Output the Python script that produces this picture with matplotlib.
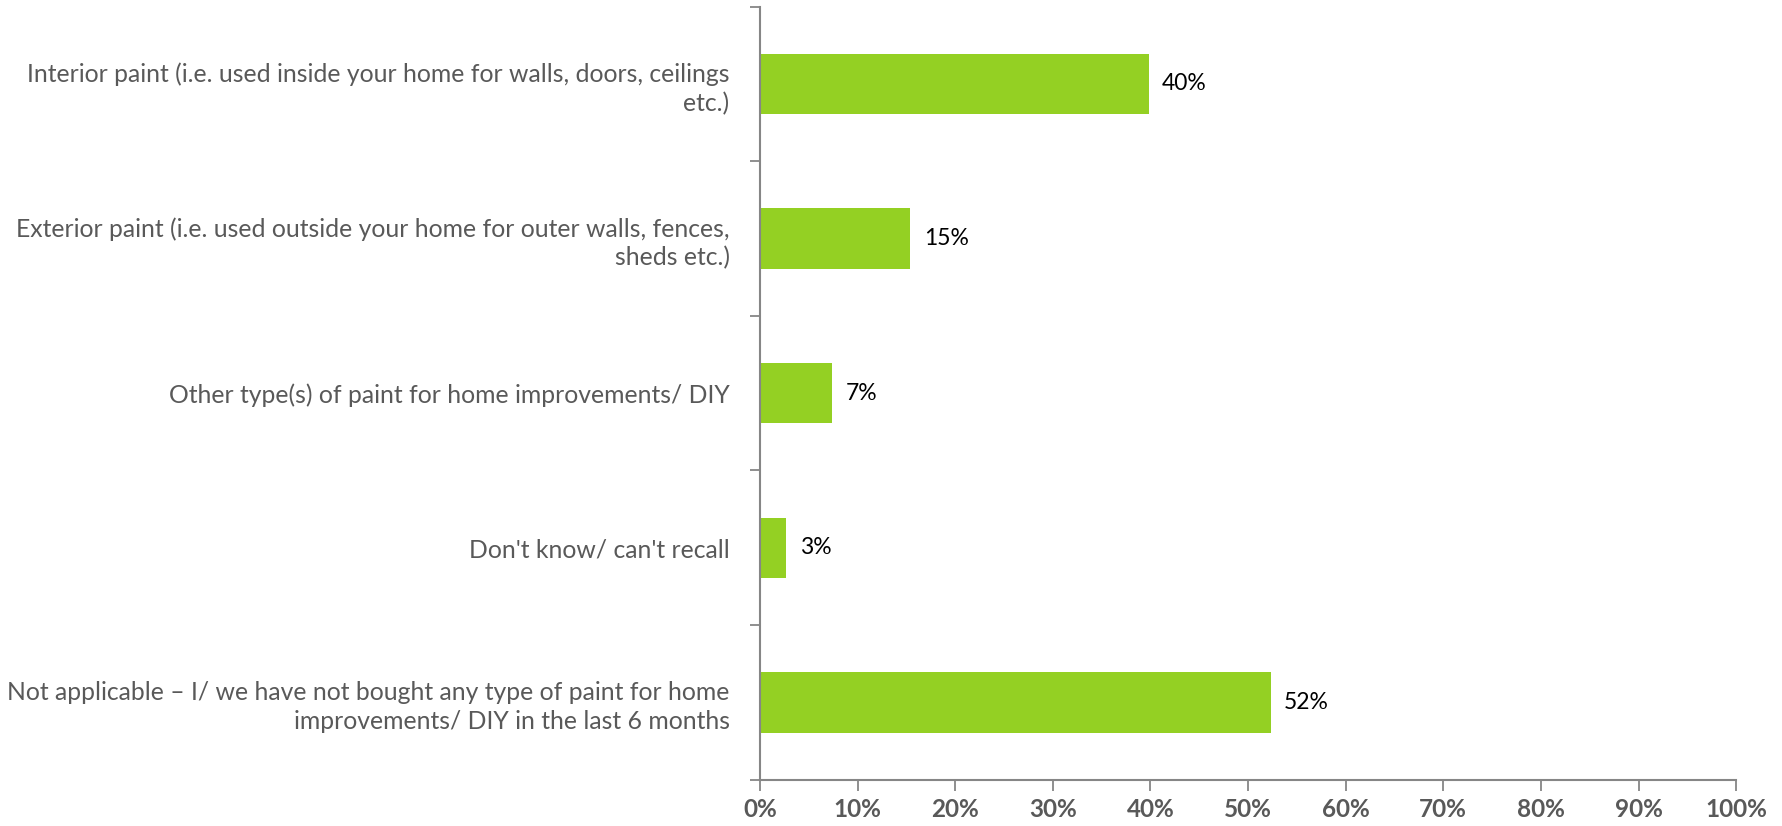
import numpy as np
import matplotlib.pyplot as plt
from matplotlib.ticker import FixedLocator

categories = [
    "Interior paint (i.e. used inside your home for walls, doors, ceilings\netc.)",
    "Exterior paint (i.e. used outside your home for outer walls, fences,\nsheds etc.)",
    "Other type(s) of paint for home improvements/ DIY",
    "Don't know/ can't recall",
    "Not applicable \u2013 I/ we have not bought any type of paint for home\nimprovements/ DIY in the last 6 months",
]
values = [39.8, 15.4, 7.4, 2.7, 52.3]
value_labels = ["40%", "15%", "7%", "3%", "52%"]
x_ticks = list(range(0, 101, 10))
x_tick_labels = [f"{t}%" for t in x_ticks]

bar_color = "#94D023"
axis_color = "#868686"
label_color = "#595959"

plt.rcParams['font.family'] = ['Lato', 'DejaVu Sans']

fig = plt.figure(figsize=(17.83, 8.26), dpi=100)
ax = fig.add_axes([0.4263, 0.056, 0.5474, 0.936])

pos = np.arange(len(categories))
ax.barh(pos, values, height=0.39, color=bar_color)

for p, v, lab in zip(pos, values, value_labels):
    ax.text(v + 1.4, p, lab, va='center', ha='left', fontsize=16.5, color='black')

ax.set_ylim(len(categories) - 0.5, -0.5)
ax.set_xlim(0, 100)

ax.set_yticks(pos)
ax.set_yticklabels(categories, fontsize=17.8, color=label_color, linespacing=1.3)
ax.tick_params(axis='y', which='major', length=0, pad=22)
ax.yaxis.set_minor_locator(FixedLocator(np.arange(-0.5, len(categories), 1.0)))
ax.tick_params(axis='y', which='minor', length=7, width=1.3, color=axis_color, direction='out')

ax.set_xticks(x_ticks)
ax.set_xticklabels(x_tick_labels, fontsize=17.5, fontweight='bold', color=label_color)
ax.tick_params(axis='x', length=8, width=1.3, color=axis_color, direction='out', pad=5)

for side in ['top', 'right']:
    ax.spines[side].set_visible(False)
for side in ['left', 'bottom']:
    ax.spines[side].set_color(axis_color)
    ax.spines[side].set_linewidth(1.5)

fig.savefig('out.png', dpi=100)
